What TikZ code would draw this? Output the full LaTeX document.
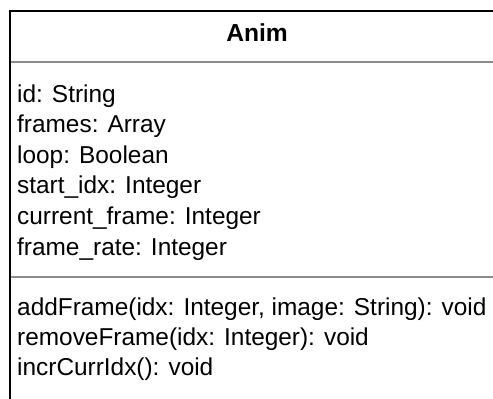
\documentclass[tikz,border=0pt]{standalone}
\usepackage{fontspec}
\setmainfont{Liberation Sans}
\begin{document}
\begin{tikzpicture}[x=1pt,y=1pt,
  member/.style={anchor=base west, inner sep=0pt, font=\fontsize{24.4}{29}\selectfont},
  title/.style={anchor=base, inner sep=0pt, font=\fontsize{24.6}{29}\selectfont\bfseries},
  frameline/.style={line width=2pt, black},
  divider/.style={line width=2pt, black!45}]
\useasboundingbox (0,0) rectangle (493,-399);
\fill[white] (0,0) rectangle (493,-399);
% class box outline (continues past the right and bottom edges)
\coordinate (tl) at (10,-11);
\coordinate (tr) at (495,-11);
\coordinate (bl) at (10,-401);
\draw[frameline] (bl) -- (tl) -- (tr);
% compartment dividers
\coordinate (d1l) at (11,-62);
\coordinate (d1r) at (495,-62);
\coordinate (d2l) at (11,-277);
\coordinate (d2r) at (495,-277);
\draw[divider] (d1l) -- (d1r);
\draw[divider] (d2l) -- (d2r);
% class name
\node[title] (name) at (257,-41) {Anim};
% attributes
\node[member] (a1) at (17,-102) {id: String};
\node[member] (a2) at (17,-132.6) {frames: Array};
\node[member] (a3) at (17,-163.2) {loop: Boolean};
\node[member] (a4) at (17,-193.8) {start\_idx: Integer};
\node[member] (a5) at (17,-224.4) {current\_frame: Integer};
\node[member] (a6) at (17,-255) {frame\_rate: Integer};
% operations
\node[member] (m1) at (17,-315) {addFrame(idx: Integer, image: String): void};
\node[member] (m2) at (17,-345) {removeFrame(idx: Integer): void};
\node[member] (m3) at (17,-375) {incrCurrIdx(): void};
\end{tikzpicture}
\end{document}
